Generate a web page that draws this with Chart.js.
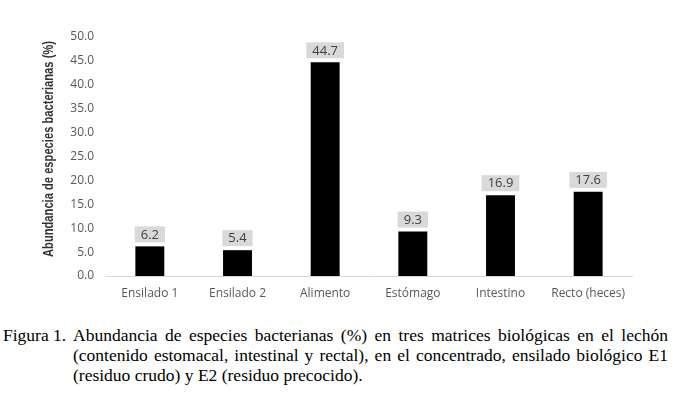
<!DOCTYPE html>
<html>
<head>
<meta charset="utf-8">
<script src="https://cdn.jsdelivr.net/npm/chart.js@4.4.1/dist/chart.umd.min.js"></script>
<style>
  html, body { margin: 0; padding: 0; background: #fff; }
  body { width: 676px; height: 395px; position: relative; overflow: hidden; }
  #wrap { position: absolute; left: 0; top: 0; width: 676px; height: 310px; }
  .cap { position: absolute; font-family: "Liberation Serif", "Times New Roman", serif; font-size: 17.5px; color: #000; line-height: 20px; }
  #figlab { left: 3px; top: 325px; }
  #captext { left: 73px; top: 325px; width: 595px; }
  #captext div { text-align: justify; text-align-last: justify; white-space: nowrap; }
  #captext div.last { text-align-last: left; }
</style>
</head>
<body>
<div id="wrap"><canvas id="c" width="676" height="310"></canvas></div>
<div class="cap" id="figlab">Figura 1.</div>
<div class="cap" id="captext">
  <div>Abundancia de especies bacterianas (%) en tres matrices biológicas en el lechón</div>
  <div>(contenido estomacal, intestinal y rectal), en el concentrado, ensilado biológico E1</div>
  <div class="last">(residuo crudo) y E2 (residuo precocido).</div>
</div>
<script>
const categories = ["Ensilado 1", "Ensilado 2", "Alimento", "Estómago", "Intestino", "Recto (heces)"];
const abundance = [6.2, 5.4, 44.7, 9.3, 16.9, 17.6];
const yTitle = "Abundancia de especies bacterianas (%)";

const labelPlugin = {
  id: 'boxLabels',
  afterDatasetsDraw(chart) {
    const ctx = chart.ctx;
    const meta = chart.getDatasetMeta(0);
    ctx.save();
    ctx.font = '13px "Open Sans", sans-serif';
    ctx.textAlign = 'center';
    ctx.textBaseline = 'middle';
    meta.data.forEach((bar, i) => {
      const txt = abundance[i].toFixed(1);
      const w = ctx.measureText(txt).width + 12;
      const h = 16;
      const cx = bar.x;
      const bottom = bar.y - 4;
      ctx.fillStyle = '#d9d9d9';
      ctx.fillRect(cx - w / 2, bottom - h, w, h);
      ctx.fillStyle = '#404040';
      ctx.fillText(txt, cx, bottom - h / 2 + 0.5);
    });
    ctx.restore();
  }
};

const titlePlugin = {
  id: 'yTitleCondensed',
  afterDraw(chart) {
    const ctx = chart.ctx;
    ctx.save();
    ctx.translate(49, 149);
    ctx.rotate(-Math.PI / 2);
    ctx.font = 'bold 15px "Liberation Sans", sans-serif';
    const w = ctx.measureText(yTitle).width;
    ctx.scale(216 / w, 1);
    ctx.textAlign = 'center';
    ctx.textBaseline = 'middle';
    ctx.fillStyle = '#333333';
    ctx.fillText(yTitle, 0, 0);
    ctx.restore();
  }
};

new Chart(document.getElementById('c'), {
  type: 'bar',
  data: {
    labels: categories,
    datasets: [{
      data: abundance,
      backgroundColor: '#000000',
      borderWidth: 0,
      barPercentage: 0.33,
      categoryPercentage: 1.0
    }]
  },
  options: {
    responsive: false,
    animation: false,
    events: [],
    layout: { padding: { left: 0, right: 44, top: 37, bottom: 0 } },
    plugins: { legend: { display: false }, tooltip: { enabled: false } },
    scales: {
      x: {
        grid: { display: false, drawTicks: false },
        border: { display: true, color: '#d9d9d9', width: 1 },
        ticks: { color: '#595959', font: { family: '"Open Sans", sans-serif', size: 12 }, padding: 10, maxRotation: 0, autoSkip: false },
        afterFit(scale) { scale.height = 34; }
      },
      y: {
        min: 0, max: 50,
        grid: { display: false, drawTicks: false },
        border: { display: false },
        ticks: {
          stepSize: 5,
          color: '#595959',
          font: { family: '"Open Sans", sans-serif', size: 12 },
          padding: 12,
          callback: (v) => Number(v).toFixed(1)
        },
        title: { display: false },
        afterFit(scale) { scale.width = 106; }
      }
    }
  },
  plugins: [labelPlugin, titlePlugin]
});
</script>
</body>
</html>
